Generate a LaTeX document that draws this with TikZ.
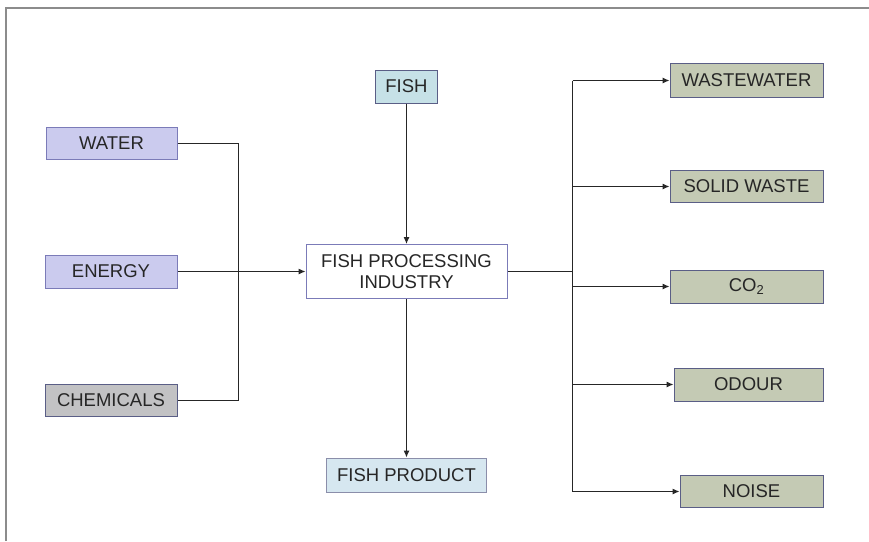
\documentclass[tikz,border=0pt]{standalone}
\usepackage{fontspec}
\setmainfont{Liberation Sans}
\usetikzlibrary{arrows.meta}
\definecolor{lav}{HTML}{CBCBEE}
\definecolor{lavline}{HTML}{7B7BB8}
\definecolor{chemfill}{HTML}{C2C2C4}
\definecolor{fishfill}{HTML}{C6E1E7}
\definecolor{prodfill}{HTML}{D6E7F0}
\definecolor{outfill}{HTML}{C4CAB4}
\definecolor{outline}{HTML}{5A5E86}
\definecolor{txt}{HTML}{262626}
\definecolor{framegray}{HTML}{8C8C8C}
\begin{document}
\begin{tikzpicture}[x=1pt,y=-1pt,
  box/.style={draw=#1, line width=1pt, inner sep=0pt, align=center,
    font=\fontsize{18.5}{21}\selectfont, text=txt},
  inbox/.style={box=lavline, fill=lav},
  chembox/.style={box=outline, fill=chemfill},
  fishbox/.style={box=outline, fill=fishfill},
  procbox/.style={box=lavline, fill=white},
  prodbox/.style={box=outline!70, fill=prodfill},
  outbox/.style={box=outline, fill=outfill},
  wire/.style={line width=1pt, draw=black!85},
  flow/.style={wire, -{Latex[length=7pt,width=6pt]}}]
\useasboundingbox (0,0) rectangle (869,541);
% outer frame
\draw[framegray, line width=1.8pt] (6,541) -- (6,8) -- (869,8);

% inputs
\node[inbox, minimum width=131pt, minimum height=32pt] (water) at (111.5,143.5) {WATER};
\node[inbox, minimum width=132pt, minimum height=33pt] (energy) at (111,271.5) {ENERGY};
\node[chembox, minimum width=132pt, minimum height=32pt] (chem) at (111,400.5) {CHEMICALS};
\node[fishbox, minimum width=62pt, minimum height=33pt] (fish) at (406.5,86.5) {FISH};

% process and product
\node[procbox, minimum width=201pt, minimum height=54pt] (proc) at (406.5,271.5) {FISH PROCESSING\\INDUSTRY};
\node[prodbox, minimum width=160pt, minimum height=34pt] (prod) at (406.5,475) {FISH PRODUCT};

% outputs
\node[outbox, minimum width=153pt, minimum height=34pt] (ww) at (746.5,80.5) {WASTEWATER};
\node[outbox, minimum width=153pt, minimum height=32pt] (solid) at (746.5,186.5) {SOLID WASTE};
\node[outbox, minimum width=153pt, minimum height=33pt] (co2) at (746.5,286.5) {CO\textsubscript{2}};
\node[outbox, minimum width=149pt, minimum height=33pt] (odour) at (748.5,384.5) {ODOUR};
\node[outbox, minimum width=143pt, minimum height=32pt] (noise) at (751.5,491.5) {NOISE};

% input collector
\coordinate (jin) at (238.5,271.5);
\draw[wire] (water.east) -| (jin) |- (chem.east);
\draw[flow] (energy.east) -- (proc.west);
\draw[flow] (fish.south) -- (fish.south |- proc.north);
\draw[flow] (proc.south) -- (proc.south |- prod.north);

% output distributor
\coordinate (jout) at (572.5,271.5);
\draw[wire] (proc.east) -- (jout);
\draw[wire] (jout |- ww.west) -- (jout |- noise.west);
\foreach \n in {ww,solid,co2,odour,noise}
  \draw[flow] (jout |- \n.west) -- (\n.west);
\end{tikzpicture}
\end{document}
